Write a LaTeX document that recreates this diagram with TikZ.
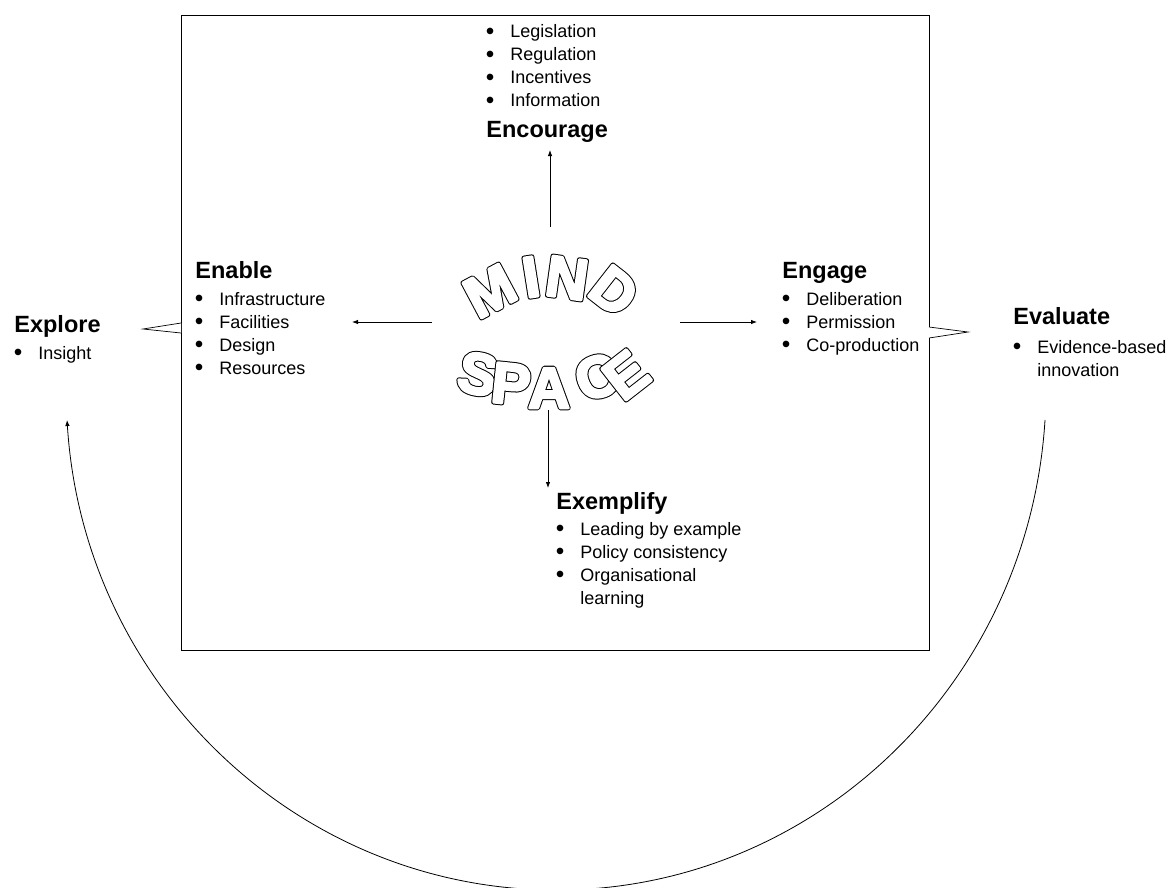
\documentclass[tikz,border=0pt]{standalone}
\usepackage{fontspec}
\setmainfont{Liberation Sans}
\usetikzlibrary{arrows.meta}
\newcommand\hdfont{\fontsize{23.5}{28}\selectfont\bfseries}
\newcommand\lsfont{\fontsize{18}{23}\selectfont}
\newcommand\bu{\makebox[24pt][l]{\hspace{-0.5pt}\raisebox{-1.8pt}{\scalebox{1.35}{\textbullet}}}}
\newcommand\nobu{\makebox[24pt][l]{}}
\newcommand\mfont{\fontsize{58}{66}\selectfont\bfseries}
% outlined, slightly emboldened letter: thick black stroke under a white fill+stroke
\newcommand\ol[1]{\rlap{\special{pdf:literal direct 1 Tr 4.6 w 1 j}#1}{\color{white}\special{pdf:literal direct 2 Tr 2.6 w 1 j}#1}\special{pdf:literal direct 0 Tr 0.8 w 0 j}}
\begin{document}
\begin{tikzpicture}[x=1pt,y=1pt,line width=0.8pt,
  hd/.style={font=\hdfont,inner sep=0pt,anchor=base west},
  lst/.style={font=\lsfont,inner sep=0pt,anchor=base west},
  arr/.style={-{Latex[length=6pt,width=4.5pt]}},
  lt/.style={font=\mfont,inner sep=0pt,anchor=center}]
\useasboundingbox (0,0) rectangle (1174,-887);
% frame
\node[draw,minimum width=748pt,minimum height=635pt,inner sep=0pt,anchor=north west] (frame) at (181,-15) {};
% callout pointers
\draw[fill=white,line width=0.7pt] (181,-323) -- (143,-329) -- (181,-333);
\draw[fill=white,line width=0.7pt] (929,-327) -- (968,-332) -- (929,-338);
% Encourage
\node[lst] (encL) at (486,-37.3) {\begin{tabular}[t]{@{}l@{}}\bu Legislation\\\bu Regulation\\\bu Incentives\\\bu Information\end{tabular}};
\node[hd] (encH) at (486,-137.3) {Encourage};
% Enable
\node[hd] (enaH) at (195,-278) {Enable};
\node[lst] (enaL) at (195,-305) {\begin{tabular}[t]{@{}l@{}}\bu Infrastructure\\\bu Facilities\\\bu Design\\\bu Resources\end{tabular}};
% Engage
\node[hd] (engH) at (782,-278) {Engage};
\node[lst] (engL) at (782,-305) {\begin{tabular}[t]{@{}l@{}}\bu Deliberation\\\bu Permission\\\bu Co-production\end{tabular}};
% Exemplify
\node[hd] (exeH) at (556,-509) {Exemplify};
\node[lst] (exeL) at (556,-535) {\begin{tabular}[t]{@{}l@{}}\bu Leading by example\\\bu Policy consistency\\\bu Organisational\\\nobu learning\end{tabular}};
% Explore
\node[hd] (expH) at (14,-332) {Explore};
\node[lst] (expL) at (14,-359) {\begin{tabular}[t]{@{}l@{}}\bu Insight\end{tabular}};
% Evaluate
\node[hd] (evaH) at (1013,-324) {Evaluate};
\node[lst] (evaL) at (1013,-353) {\begin{tabular}[t]{@{}l@{}}\bu Evidence-based\\\nobu innovation\end{tabular}};
% MIND SPACE
\node[lt,rotate=28] (lM) at (490,-291) {\ol{M}};
\node[lt,rotate=9] (lI) at (531,-277) {\ol{I}};
\node[lt,rotate=-8] (lN) at (567,-278) {\ol{N}};
\node[lt,rotate=-38] (lD) at (614,-291) {\ol{D}};
\node[lt,rotate=-12] (lS) at (478,-374) {\ol{S}};
\node[lt,rotate=-6] (lP) at (511,-384) {\ol{P}};
\node[lt] (lA) at (549,-388) {\ol{A}};
\node[lt,rotate=20] (lC) at (597,-377) {\ol{C}};
\node[lt,rotate=38] (lE) at (626,-375) {\ol{E}};
% arrows
\coordinate (uA) at (550,-227); \coordinate (uB) at (550,-150);
\coordinate (dA) at (548,-410); \coordinate (dB) at (548,-488);
\coordinate (lA0) at (432,-322); \coordinate (lB0) at (352,-322);
\coordinate (rA0) at (680,-322); \coordinate (rB0) at (757,-322);
\draw[arr] (uA) -- (uB);
\draw[arr] (dA) -- (dB);
\draw[arr] (lA0) -- (lB0);
\draw[arr] (rA0) -- (rB0);
% big cycle arc
\coordinate (arcR) at (1045,-420);
\draw[arr] (arcR) arc[start angle=-3.65,end angle=-176.35,x radius=490,y radius=502];
\end{tikzpicture}
\end{document}
